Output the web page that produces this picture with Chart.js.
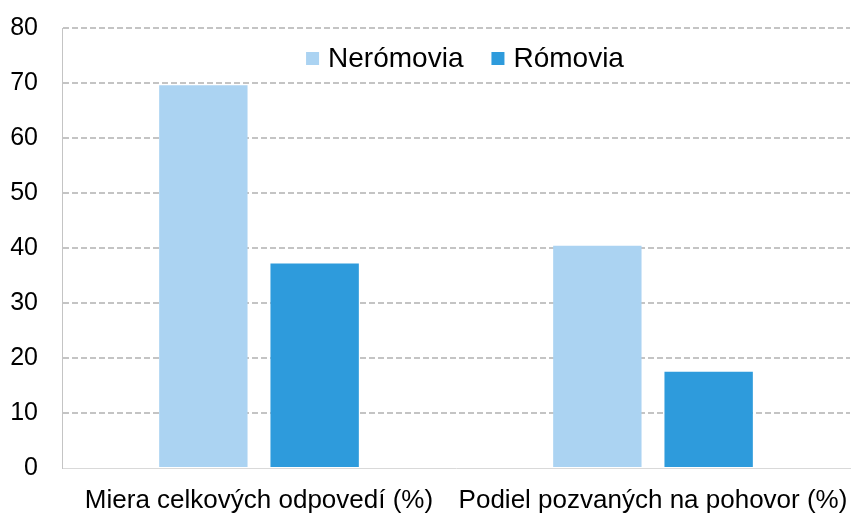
<!DOCTYPE html>
<html>
<head>
<meta charset="utf-8">
<script src="https://cdn.jsdelivr.net/npm/chart.js@4/dist/chart.umd.min.js"></script>
<style>
  html, body { margin: 0; padding: 0; background: #fff; }
  #wrap { width: 854px; height: 514px; }
</style>
</head>
<body>
<div id="wrap"><canvas id="chart"></canvas></div>
<script>
  const categories = ['Miera celkových odpovedí (%)', 'Podiel pozvaných na pohovor (%)'];
  const neromovia = [69.6, 40.4];
  const romovia = [37.2, 17.5];
  const yTicks = [0, 10, 20, 30, 40, 50, 60, 70, 80];

  const fontFamily = '"Liberation Sans", Arial, sans-serif';

  // legend drawn inside the plot area, centered near the top
  const innerLegend = {
    id: 'innerLegend',
    afterDraw(chart) {
      const c = chart.ctx;
      const area = chart.chartArea;
      const box = 13, textGap = 9, itemGap = 28;
      c.save();
      c.font = '28px ' + fontFamily;
      c.textBaseline = 'middle';
      const items = chart.data.datasets.map(ds => ({
        label: ds.label, color: ds.backgroundColor, w: c.measureText(ds.label).width
      }));
      let total = 0;
      items.forEach((it, i) => { total += box + textGap + it.w + (i > 0 ? itemGap : 0); });
      let x = (area.left + area.right) / 2 - total / 2 + 9;
      const yTop = area.top + 24;
      items.forEach(it => {
        c.fillStyle = it.color;
        c.fillRect(x, yTop, box, box);
        c.fillStyle = '#000';
        c.fillText(it.label, x + box + textGap, yTop + box / 2 + 1);
        x += box + textGap + it.w + itemGap;
      });
      c.restore();
    }
  };

  const ctx = document.getElementById('chart').getContext('2d');
  new Chart(ctx, {
    type: 'bar',
    data: {
      labels: categories,
      datasets: [
        {
          label: 'Nerómovia',
          data: neromovia,
          backgroundColor: '#abd3f2', // light blue
          borderWidth: 0
        },
        {
          label: 'Rómovia',
          data: romovia,
          backgroundColor: '#2e9bdc', // blue
          borderWidth: 0
        }
      ]
    },
    options: {
      responsive: true,
      maintainAspectRatio: false,
      animation: false,
      layout: { padding: { left: 0, right: 4, top: 28, bottom: 0 } },
      datasets: {
        bar: { categoryPercentage: 0.565, barPercentage: 0.794 }
      },
      plugins: {
        legend: { display: false },
        tooltip: { enabled: false }
      },
      scales: {
        x: {
          grid: { display: false },
          border: { display: true, color: '#d9d9d9', width: 1 },
          ticks: {
            font: { family: fontFamily, size: 26 },
            color: '#000',
            padding: 9,
            maxRotation: 0,
            autoSkip: false
          },
          afterFit: function (scale) {
            scale.height = 46;
            scale.paddingLeft = 0;
            scale.paddingRight = 0;
          }
        },
        y: {
          min: 0,
          max: 80,
          afterBuildTicks: function (scale) {
            scale.ticks = yTicks.map(v => ({ value: v }));
          },
          grid: {
            drawTicks: false,
            lineWidth: 2,
            color: c => c.tick && c.tick.value === 0 ? 'rgba(0,0,0,0)' : '#c4c4c4'
          },
          border: { display: true, color: '#c4c4c4', width: 1, dash: [6, 3] },
          ticks: { font: { family: fontFamily, size: 25 }, color: '#000', padding: 24 },
          afterFit: function (scale) {
            scale.width = 62;
            scale.paddingTop = 0;
            scale.paddingBottom = 0;
          }
        }
      }
    },
    plugins: [innerLegend]
  });
</script>
</body>
</html>
